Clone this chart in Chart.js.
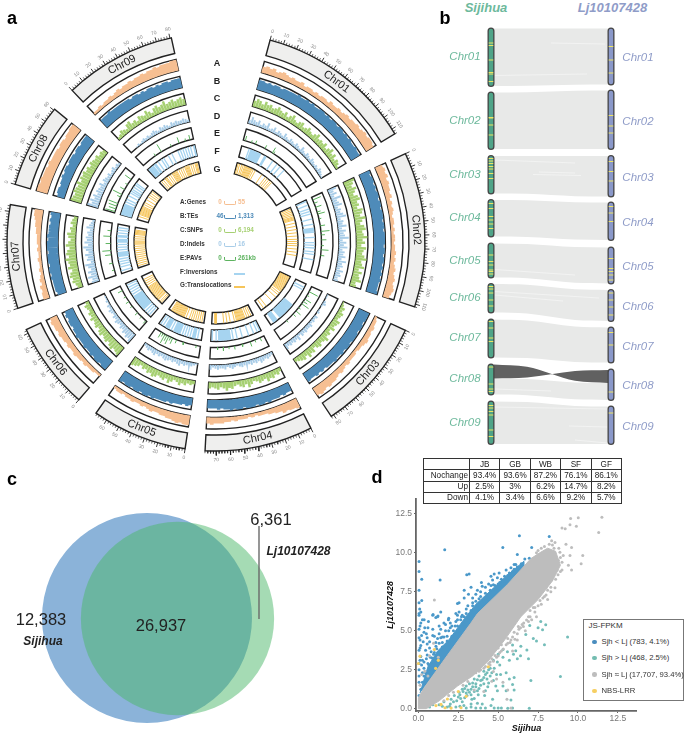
<!DOCTYPE html>
<html>
<head>
<meta charset="utf-8">
<title>Sijihua vs Lj10107428</title>
<script src="https://cdn.jsdelivr.net/npm/chart.js@4"></script>
<style>
html, body { margin: 0; padding: 0; background: #fff; }
#page { position: relative; width: 685px; height: 734px; overflow: hidden; font-family: "Liberation Sans", Arial, sans-serif; }
#page canvas { position: absolute; }
.txt { position: absolute; white-space: nowrap; line-height: 1; transform: translate(-50%, -50%); }
.swatch { position: absolute; box-sizing: border-box; height: 4px; border-style: solid; border-width: 0 1px 1.6px 1px; border-radius: 0 0 2px 2px; }
#statTable { position: absolute; left: 423px; top: 458px; width: 199px; height: 46px; border-collapse: collapse; table-layout: fixed; font-size: 8.2px; color: #222; }
#statTable td { border: 1px solid #333; padding: 0 1px; text-align: center; height: 10px; line-height: 9px; white-space: nowrap; }
#statTable td:first-child { text-align: right; width: 43px; }
#jsLegend { position: absolute; left: 583px; top: 619px; width: 101px; height: 82px; box-sizing: border-box; border: 1.5px solid #777; background: #fff; }
</style>
</head>
<body>
<div id="page"></div>
<script>
// ---------- panel a: circos tracks ----------
const chrNames = ['Chr01', 'Chr02', 'Chr03', 'Chr04', 'Chr05', 'Chr06', 'Chr07', 'Chr08', 'Chr09'];
const chrLengths = [114, 112, 82, 78, 69, 63, 75, 61, 81];
const chrStartDeg = [15, 65, 115, 153, 188.5, 221, 251.5, 286, 316.5];
const mbPerDeg = 2.6;

// bar heights per bin, 0-9
const genes = [
  [5,6,5,6,4,5,6,5,4,5,4,4,5,3,4,4,3,4,3,4,4,3,5,4,4,5,4,5,6,5,6,6,7,6,7,8,7,8,8,7],
  [6,7,6,7,5,6,5,5,4,5,3,4,3,4,3,2,3,3,2,3,2,3,3,2,3,3,4,3,4,3,4,5,4,5,6,5,6,7,6,5],
  [2,3,3,4,3,4,4,5,4,3,3,2,3,3,3,4,3,4,5,4,5,6,6,7,6,7,8,7],
  [8,7,7,6,7,5,5,4,4,3,3,3,2,3,2,3,3,3,4,3,4,4,5,5,5,6,5],
  [8,8,7,8,7,6,6,5,5,4,4,5,4,3,4,3,3,4,3,3,2,3,3,2],
  [2,2,3,3,3,4,3,4,4,5,4,4,5,4,5,5,6,5,6,6,7,6],
  [5,5,4,5,3,4,3,2,3,2,2,3,2,2,3,2,3,3,3,4,4,5,5,6,7,7],
  [9,9,8,9,8,8,8,7,8,7,7,7,7,6,7,7,6,7,7,8,8],
  [2,2,3,2,3,3,4,3,4,5,4,5,5,6,5,6,6,7,6,7,7,8,7,8,8,8,9,9]
];
const tes = [
  [8,8,7,8,7,8,8,7,8,8,8,8,8,9,8,8,9,8,9,8,8,9,9,8,9,8,9,9,8,9,9,8,9,8,9,8,8,9,8,8],
  [9,8,9,9,8,9,8,9,9,8,9,9,8,9,9,9,8,9,9,8,9,9,9,9,8,9,9,8,9,9,8,9,8,9,8,9,8,8,8,9],
  [9,9,9,8,9,9,8,9,9,9,8,9,9,8,9,8,8,9,8,8,8,7,8,7,8,7,7,8],
  [7,7,8,7,8,8,8,9,8,9,9,8,9,9,9,8,9,9,8,9,8,8,7,8,7,7,7],
  [6,7,6,7,7,7,8,7,8,8,8,8,9,8,9,9,8,9,9,8,9,9,8,9],
  [9,9,8,9,9,8,9,8,8,9,8,8,8,9,8,8,7,8,8,7,8,7],
  [7,8,8,8,8,9,8,9,9,8,9,9,9,8,9,9,9,8,9,8,8,8,7,8,7,8],
  [6,7,7,6,7,7,8,7,8,8,7,8,8,8,7,8,8,7,8,8,8],
  [8,8,8,9,8,8,8,8,8,8,8,7,8,8,7,8,7,8,8,7,8,7,8,8,7,8,8,8]
];
const snps = [
  [5,7,6,4,7,5,6,4,5,7,5,4,6,3,5,7,4,3,5,6,3,4,6,4,3,5,7,4,5,4,6,3,5,7,4,6,3,5,4,2],
  [9,7,5,8,6,4,7,8,5,6,4,8,7,5,9,6,4,7,8,5,6,9,5,7,4,8,6,5,7,9,5,6,8,4,7,5,6,8,4,5],
  [1,2,4,3,5,4,3,6,5,4,6,3,5,4,7,5,4,6,5,3,6,5,7,4,6,5,4,3],
  [3,5,4,6,5,7,4,5,6,4,3,5,7,4,6,5,3,4,6,5,7,5,4,6,5,4,5],
  [3,4,3,5,4,6,4,3,5,7,4,6,5,4,6,7,5,6,4,5,3,5,6,7],
  [8,7,6,8,7,5,7,6,5,7,6,4,6,5,4,6,4,5,3,4,5,3],
  [4,5,7,6,8,7,5,8,6,7,9,6,8,7,5,8,6,4,6,7,4,5,3,5,4,3],
  [9,8,7,9,8,7,9,6,8,7,8,6,7,5,7,6,5,6,4,5,4],
  [2,3,5,4,3,6,7,4,5,3,6,5,4,7,5,3,6,7,5,6,8,5,6,7,5,6,7,5]
];
const indels = [
  [3,6,4,3,5,2,4,3,6,2,3,5,2,4,3,2,5,3,2,4,3,2,4,3,2,5,3,2,4,3,2,4,3,2,3,2,4,3,2,1],
  [7,4,6,3,8,4,5,7,3,5,4,6,8,3,5,4,7,3,6,4,5,8,3,6,4,7,3,5,4,6,3,7,4,5,3,6,4,5,3,4],
  [1,1,0,2,3,1,0,1,2,0,3,2,3,2,4,3,3,4,3,4,2,5,3,4,3,4,3,5],
  [2,3,4,3,4,5,3,4,3,4,3,2,3,4,3,2,3,4,3,2,4,3,3,4,3,2,4],
  [1,2,3,2,3,4,3,5,4,3,4,3,4,5,4,3,4,3,5,4,3,4,3,2],
  [8,6,7,5,6,4,5,3,4,5,3,4,2,3,4,2,3,1,2,1,1,0],
  [6,5,8,5,7,4,6,8,3,6,5,7,4,6,8,4,7,5,6,4,5,3,6,4,3,2],
  [9,6,8,5,7,4,6,5,4,6,3,5,4,3,4,2,3,4,2,3,2],
  [0,0,0,1,2,1,2,3,2,3,2,3,4,3,2,4,3,4,3,2,4,3,4,3,3,4,3,2]
];
// [Mb, height 0-9]
const pavs = [
  [[3,4],[12,2],[18,3],[33,3],[45,5],[47,2]],
  [[4,7],[9,3],[15,5],[22,3],[25,6],[32,2],[42,4],[50,7],[55,3],[62,4],[70,2],[76,6],[84,3]],
  [[8,8],[14,2],[20,6],[24,4],[28,7],[35,2],[41,5],[47,3],[60,2]],
  [[6,3],[14,2],[21,4],[33,2],[44,3],[52,2],[60,3],[68,2]],
  [[6,2],[24,2],[35,3],[41,5],[44,3],[47,7],[50,5],[53,8],[56,3],[59,5]],
  [[2,3],[10,2],[18,3],[30,2],[38,3],[46,2],[56,4]],
  [[8,2],[18,3],[30,5],[36,7],[46,4],[56,6],[64,3]],
  [[2,8],[6,6],[10,7],[14,8],[24,3],[28,8],[36,4],[44,2],[53,6]],
  [[22,2],[32,7],[48,2],[60,5],[70,2],[76,4]]
];
const inversions = [
  [12,15,17,19,21,23,25,27,29,31,38,40,52,60,66,74],
  [2,8,14,18,22,30,38,44,46,48,50,58,66,70,74,80,84,92],
  [6,10,38,40,42,44,46,48,50,52,54,56,58,60,62,64,70,72,74,76],
  [2,6,12,20,30,38,44,48,50,52,54,56,58,60,62,64,66,70,76],
  [6,10,12,14,18,22,26,30,34,36,38,40,42,44,48,52,54,56,58,62,66],
  [4,8,12,16,18,20,22,24,26,28,30,32,34,36,38,40,44,48,52,56,60],
  [4,10,14,18,22,26,28,30,32,36,40,44,48,50,52,56,58,62,66,70],
  [1,3,5,7,9,11,13,15,17,21,25,31,36,39,42,46,50,53],
  [2,4,6,8,10,13,15,20,26,30,38,44,54,58,62,66,70,74,79,80]
];
const translocations = [
  [2,5,9,12,15,17,19,21,23,25,27,29,32,36,50,58,62,66,70,73],
  [3,6,9,12,15,18,20,22,24,30,36,42,48,54,60,64,68,72,78,84,90],
  [2,4,6,8,10,12,14,16,18,20,22,24,26,28,30,32,36,40,46,56,70,76],
  [4,8,12,16,18,20,22,24,26,28,30,32,36,44,50,56,70,72],
  [4,8,12,16,20,24,28,34,38,40,42,44,46,48,50,52,54,56,58,60,62,64],
  [3,6,10,12,14,16,18,20,22,24,26,28,30,32,34,36,38,40,44,48,52,56],
  [4,8,12,16,20,24,28,32,36,40,44,46,48,50,54,58,62,64,66,68,70],
  [6,10,12,14,16,18,20,22,24,26,30,34,40,46,50,54,58],
  [4,8,12,14,16,20,24,28,30,32,34,36,38,42,46,50,54,56,58,60,62,66,70,74,76,78]
];

// ---------- panel b: synteny, layout axis units ----------
const sjStart = [17, 145, 272, 360, 447, 528, 599, 689, 763];
const sjLen = [115, 113, 75, 73, 68, 57, 76, 60, 85];
const ljStart = [17, 141, 272, 365, 455, 540, 615, 699, 773];
const ljLen = [112, 117, 81, 75, 72, 62, 70, 61, 75];
const sjBands = [46,51,80,105,108,123,195,196,210,230,277,282,287,293,298,307,317,367,377,393,400,408,417,470,483,490,500,503,508,533,538,546,560,572,603,616,636,643,694,728,738,743,771,776,783,790,820,833];
const ljBands = [53,80,106,191,212,226,283,303,322,373,386,403,477,497,503,510,520,546,560,574,590,625,650,744,786];
// x0, y0, x1, y1
const slivers = [[0.03,111,0.8,108],[0.5,46,0.95,48],[0.35,309,0.75,311],[0.4,304,0.7,306],[0.03,280,0.7,286],[0.03,499,0.7,510],[0.03,543,0.9,556],[0.03,550,0.6,562],[0.03,738,0.5,742],[0.03,774,0.97,778],[0.65,812,0.97,814],[0.7,840,0.97,846]];
// Chr08 inverted block
const invSj = [689, 717];
const invLj = [700, 726];

// ---------- panel c: venn ----------
const sjOnly = 12383;
const shared = 26937;
const ljOnly = 6361;

// ---------- panel d: expression scatter ----------
const fpkmTicks = [0, 2.5, 5, 7.5, 10, 12.5];
const tableHead = ['', 'JB', 'GB', 'WB', 'SF', 'GF'];
const tableRows = [
  ['Nochange', '93.4%', '93.6%', '87.2%', '76.1%', '86.1%'],
  ['Up', '2.5%', '3%', '6.2%', '14.7%', '8.2%'],
  ['Down', '4.1%', '3.4%', '6.6%', '9.2%', '5.7%']
];
const coreOutline = [[0,0],[0,0.7],[0.36,1.34],[1.82,3.43],[3.28,5.48],[3.7,6.1],[5.58,7.97],[7.05,9.63],[7.6,10.0],[8.1,10.3],[8.6,10.1],[8.9,9.2],[8.4,8.2],[7.5,7],[6.42,5.9],[5.4,4.4],[4.33,3],[3.4,2.1],[2.45,1.45],[1.3,0.5],[0.5,0],[0,0]];
const blueBand = [[0.1,1.0],[0.6,2.7],[1.2,3.7],[1.9,4.4],[2.9,5.8],[3.6,6.7],[4.5,7.55],[5.5,8.5],[6.6,9.45],[6.6,8.8],[3,4.8],[1,2.2]];
const bluePts = [[6.33,11.1],[1.65,10.2],[5.29,10.35],[7.1,10.35],[8.2,11.05],[6.2,9.9],[0.04,9.45],[0.04,8.8],[0.21,8.3],[1.36,8.25],[3.03,8.6],[3.18,8.65],[0.04,7.6],[0.21,6.95],[0.04,6.8],[0.08,6.4],[0.15,6.2],[0.04,6.1],[1.4,6.2],[0.92,6.05],[1.23,5.95],[1.09,5.85],[0.36,5.7],[0.63,5.6],[1.88,5.7],[2.45,6.75],[2.55,6.8],[2.87,7.1],[2.87,7.6],[3.3,7.8],[3.14,7.35],[3.95,8.1],[4,7.85],[4.2,7.8],[3.7,7.6],[3.6,7.35],[4.55,8.5],[4.75,8.65],[5.06,8.7],[4.65,8.25],[4.95,8.4],[4.4,8],[4.7,7.95],[5.1,8.1],[5.4,8.5],[5.5,8.9],[5.8,9.05],[6,9.25],[6.1,9.25],[6.45,9.3],[6.67,9.6],[6.95,9.65],[6,8.95],[5.7,8.7],[5.4,8.2],[5.1,7.9],[4.75,7.65],[4.2,7.4],[3.8,7.05],[3.4,6.8],[3.1,6.6],[3,6.4],[2.55,6.2],[2.45,6],[2.75,6],[3.3,6.3],[3.7,6.6],[4.1,6.9],[4.4,7.05],[2.35,5.6],[2.65,5.7],[3.1,5.9],[2.87,5.6],[2,5.5],[0.04,6],[0.9,6],[1.2,5.9],[1.9,5.8],[2.45,5.7],[2.87,5.9],[3.2,5.8],[2.87,5.4],[2.45,5.3],[2,5.2],[1.7,5],[2.2,5],[2.55,5],[1.3,5.3],[0.9,5.1],[0.15,5.5],[0.25,5.7],[0.04,5.1],[0.35,4.9],[0.04,4.55],[0.55,4.55],[1,4.65],[1.4,4.55],[1.8,4.65],[2.1,4.65],[0.55,4.15],[1.09,4.25],[1.5,4.25],[1.8,4.35],[0.15,4.05],[0.04,3.75],[0.45,3.75],[0.8,3.65],[1.15,3.85],[1.5,3.95],[0.15,3.35],[0.55,3.45],[0.85,3.25],[1.15,3.45],[0.04,2.9],[0.35,3],[0.65,2.8],[0.95,3],[1.15,2.9],[0.04,2.5],[0.35,2.6],[0.65,2.5],[0.85,2.4],[0.04,2.1],[0.35,2.1],[0.55,2.2],[0.04,1.7],[0.25,1.7],[0.45,1.8],[0.15,1.25],[0.35,1.25],[0.04,0.85],[0.25,0.8],[0.6,5.2],[0.2,4.7],[0.7,4.3],[1.3,4.8],[1.6,5.5],[0.3,4.3],[0.25,3.1],[0.7,3.9],[0.5,3.2],[1.0,3.6],[2.3,5.3],[2.7,5.9],[3,6.1],[3.4,6.6],[3.6,6.9],[3.9,7.2],[4.2,7.1],[4.5,7.6],[4.8,7.9],[5,8],[5.2,8.3],[5.6,8.55],[5.9,8.8],[6.2,9.1],[1.6,4.6],[1.9,5],[2.1,5.3],[1.3,4.2],[1.5,4.6],[1.1,4],[0.95,3.5],[0.75,3.3],[0.6,2.9],[0.45,2.3],[0.25,2.3],[0.2,2.8],[0.1,3.1],[0.1,3.9],[0.1,4.4],[0.1,5.3],[0.4,5.2],[0.5,4.8],[0.9,4.7],[1.2,4.5],[1.4,5.1],[1.7,5.4],[2.35,6.1],[3.4,7.1],[3.9,7.5],[4.55,7.9]];
const tealPts = [[7.67,5.6],[7.98,5.38],[7.5,5.2],[6.98,5.33],[7.78,5.07],[6.73,4.76],[7.2,4.5],[7.4,4.35],[9.35,4.6],[7.9,4.1],[6.42,4],[5.9,4.08],[6.8,3.76],[5.58,3.66],[6.1,3.72],[5.96,3.5],[6.9,3.2],[6.2,3.2],[5.7,3.1],[5,3.5],[5.3,3.3],[4.95,3],[4.75,2.6],[4.4,2.5],[5.5,2.3],[8.9,2.06],[7.05,1.8],[6,2],[5.15,2.2],[5.7,1.9],[4.2,2.2],[4,1.85],[4.4,1.65],[3.7,1.85],[3.4,1.65],[4.85,1.45],[5.3,1.45],[5.9,1.55],[3.3,1.25],[3.7,1.15],[4.2,1.15],[4.95,1.15],[5.5,1.15],[6,1.2],[3,1.45],[2.75,1.25],[2.55,1.05],[3.05,0.85],[3.5,0.65],[4.15,0.85],[4.65,0.6],[5.8,0.55],[2.25,0.85],[2.05,0.6],[2.65,0.65],[2.85,0.2],[3.3,0.3],[1.6,0.45],[1.3,0.25],[0.9,0.25],[0.7,0.1],[1.8,0.1],[2.35,0.1],[3,0.05],[3.6,0.05],[3.9,0.05],[4.2,0.05],[4.75,0.05],[5,0.05],[5.2,0.05],[5.6,0.02],[5.9,0.05],[6.95,0.02],[4.55,0.2],[4,0.3],[2.9,1.3],[3.2,1.6],[3.5,1.9],[3.8,2.1],[4.1,2.4],[2.6,0.9],[3,1],[3.3,0.9],[3.6,1.4],[3.9,1.5],[4.3,1.9],[4.5,2.1],[4.6,2.3],[2.4,0.5],[2,0.3],[1.5,0.15],[4.7,3.1],[5.1,2.8],[5.3,3.8],[6.4,3.4],[4.9,2.2],[2.8,1.1],[3.1,1.2],[3.4,1.4],[3.6,1.6],[3.9,1.8],[4.1,2],[4.3,2.3],[4.5,2.6],[3.2,1.05],[2.9,0.7],[3.5,1.1],[3.8,1.3],[4.1,1.6],[3.35,0.6],[3.75,0.9],[4.35,1.4],[4.7,1.8],[2.2,0.45],[2.5,0.75],[2.75,0.45],[1.95,0.15],[2.6,0.15],[3.3,0.1],[3.7,0.35]];
const grayPts = [[9.54,12.2],[10.02,12.26],[11.5,12.28],[11.3,11.3],[9.9,11.7],[9.5,11.8],[9,11.6],[9.2,11.55],[8.56,10.66],[8.35,10.77],[9.25,10.56],[9.6,10.35],[8.87,10.04],[9.08,9.83],[10.3,9.83],[10.2,9.3],[9.6,8.9],[9.4,9.2],[9.5,9.83],[8.66,9.1],[8.77,9.52],[8.35,8.28],[8.56,7.76],[8,7.76],[8.04,8.38],[7.62,6.94],[7.2,6.5],[6.78,5.69],[6.58,5.28],[6.26,5.28],[6.05,4.45],[5.74,4.24],[5.32,3.83],[4.8,3.42],[4.49,2.8],[4.7,2.38],[4.6,1.76],[1,6.98],[7.9,7.2],[8.3,7.5],[8.75,8.6],[9,8.9],[7.3,6.2],[6.9,5.9],[7,6.3],[6.4,5.2],[5.9,4.6],[5.6,4.5],[5.2,4.1],[5,3.9],[4.6,3.2],[4.2,2.7],[3.9,2.5],[8.2,10.55],[7.9,10.4],[7.5,10.15],[8.5,10.3],[8.9,9.7],[9,9.4],[5.9,3.7],[6.2,4.4],[6.7,5],[7.1,5.7],[7.4,5.9],[8.1,7],[3.5,1.2],[4.1,1.1],[4.9,1.9],[5.3,1.7],[5.6,1.2],[0.1,1.5],[0.2,2.2],[0.4,2.4],[0.6,2.1],[0.7,3.4],[1.25,3.3],[0.95,4.2],[5.55,0.6],[5.8,0.05],[3.8,2.4],[4.1,2.6],[4.4,2.9],[4.7,3.05],[5,3.4],[5.2,3.7],[5.5,4.1],[5.8,4.4],[6,4.9],[6.3,5.1],[6.6,5.5],[7,5.9],[7.3,6.5],[7.7,6.7],[8,7.3],[8.3,7.8],[8.6,8.3],[8.7,8.9],[8.9,8.8],[8.1,7.6],[7.8,7.1],[7.5,6.6],[5.1,3.6],[5.6,4.2],[6.2,4.8],[6.5,5.4],[6.9,5.6],[4.5,3],[4.9,3.3],[3.6,2.3],[3.1,1.75],[2.8,1.5],[2.2,1.05],[1.9,0.85],[1.6,0.5],[7.7,10.3],[7.4,10],[8.4,10.5],[8.8,10.3]];
const nbsPts = [[1,3.79],[0.1,3.37],[0,2.9],[1.25,3.1],[1.08,2.59],[4.38,2.69],[2.5,1.1],[2.99,0.79],[1.82,0.62],[1.1,0.2],[1.42,0.27],[1.67,0.06],[2.05,0.04],[2.67,0.06]];

const palette = {
  genes: '#F6BF92', tes: '#4E8BB9', snps: '#A6D072', indels: '#A9CDE8', pavs: '#5DB35F',
  inv: '#A6D4F0', trans: '#F6C55A', sj: '#6DB99C', lj: '#8F9CC8'
};
const FONT = '"Liberation Sans", Arial, sans-serif';
Chart.defaults.animation = false;
Chart.defaults.font.family = FONT;
Chart.defaults.plugins.legend.display = false;
Chart.defaults.plugins.tooltip.enabled = false;
Chart.defaults.responsive = false;
Chart.defaults.events = [];
Chart.defaults.layout.autoPadding = false;

const page = document.getElementById('page');

function addCanvas(left, top, w, h) {
  const c = document.createElement('canvas');
  c.width = w; c.height = h;
  c.style.left = left + 'px'; c.style.top = top + 'px';
  c.style.width = w + 'px'; c.style.height = h + 'px';
  page.appendChild(c);
  return c;
}

function addText(str, x, y, css) {
  const d = document.createElement('div');
  d.className = 'txt';
  d.textContent = str;
  d.style.left = x + 'px'; d.style.top = y + 'px';
  d.style.cssText += css;
  page.appendChild(d);
  return d;
}

// ---- panel a, rings (first dataset is the outermost ring)
const ringWeights = [16, 6, 11.5, 6, 11.5, 6, 11.5, 6, 11.5, 6, 11.5, 6, 11.5, 6, 11.5];
const ringSegments = [];
chrNames.forEach((n, i) => {
  const next = i < 8 ? chrStartDeg[i + 1] : chrStartDeg[0] + 360;
  const end = chrStartDeg[i] + chrLengths[i] / mbPerDeg;
  ringSegments.push(chrLengths[i], (next - end) * mbPerDeg);
});
const ringSets = ringWeights.map((w, i) => {
  const isGap = i % 2 === 1;
  return {
    data: ringSegments,
    weight: w,
    backgroundColor: isGap ? 'rgba(0,0,0,0)' : ringSegments.map((v, k) => k % 2 ? 'rgba(0,0,0,0)' : (i === 0 ? '#EFEFEE' : '#fff')),
    borderColor: isGap ? 'rgba(0,0,0,0)' : ringSegments.map((v, k) => k % 2 ? 'rgba(0,0,0,0)' : '#222'),
    borderWidth: isGap ? 0 : ringSegments.map((v, k) => k % 2 ? 0 : 1.4),
    borderJoinStyle: 'miter'
  };
});

new Chart(addCanvas(-4, 0, 440, 484), {
  type: 'doughnut',
  data: { labels: [], datasets: ringSets },
  options: { rotation: chrStartDeg[0], radius: 209, cutout: '33.73%', layout: { padding: 0 } }
});

// ---- panel a, tracks as radial strokes
function polar(chr, mb, r) {
  const a = (chrStartDeg[chr] + mb / mbPerDeg) * Math.PI / 180;
  return { x: r * Math.sin(a), y: r * Math.cos(a) };
}
const GAP = { x: NaN, y: NaN };
const trackSets = [];
function strokeSet(points, color, width) {
  trackSets.push({ data: points, showLine: true, borderColor: color, borderWidth: width, pointRadius: 0, borderCapStyle: 'butt' });
}
function histTrack(values, rInner, rHeight, color, widthFactor) {
  values.forEach((bins, chr) => {
    const step = chrLengths[chr] / bins.length;
    const pts = [];
    bins.forEach((v, i) => {
      if (!v) return;
      const mb = (i + 0.5) * step;
      pts.push(polar(chr, mb, rInner), polar(chr, mb, rInner + rHeight * v / 9), GAP);
    });
    const binWidth = (rInner + rHeight) * (step / mbPerDeg) * Math.PI / 180;
    strokeSet(pts, color, binWidth * widthFactor);
  });
}
function sparseTrack(positions, rInner, rHeight, color, width) {
  positions.forEach((list, chr) => {
    const pts = [];
    list.forEach(mb => pts.push(polar(chr, mb, rInner), polar(chr, mb, rInner + rHeight), GAP));
    strokeSet(pts, color, width);
  });
}
histTrack(genes, 175.5, 11, palette.genes, 1.02);
histTrack(tes, 158, 11, palette.tes, 1.02);
histTrack(snps, 140.5, 11, palette.snps, 0.85);
histTrack(indels, 123, 11, palette.indels, 0.75);
pavs.forEach((list, chr) => {
  const pts = [];
  list.forEach(p => pts.push(polar(chr, p[0], 105.5), polar(chr, p[0], 105.5 + 11 * p[1] / 9), GAP));
  strokeSet(pts, palette.pavs, 1);
});
sparseTrack(inversions, 88, 11, palette.inv, 1.3);
sparseTrack(translocations, 71, 10.5, palette.trans, 1);

// ideogram ticks
chrNames.forEach((n, chr) => {
  const minor = [], major = [];
  for (let mb = 0; mb <= chrLengths[chr]; mb += 2) {
    if (mb % 10 === 0) major.push(polar(chr, mb, 209), polar(chr, mb, 213.5), GAP);
    else minor.push(polar(chr, mb, 209), polar(chr, mb, 211.5), GAP);
  }
  strokeSet(major, '#222', 0.9);
  strokeSet(minor, '#222', 0.7);
});

const flip = [false, false, true, true, true, true, false, false, false];
const circosLabels = {
  id: 'circosLabels',
  afterDatasetsDraw(chart) {
    const { ctx, scales: { x, y } } = chart;
    const put = (text, chr, mb, r) => {
      const p = polar(chr, mb, r);
      const deg = chrStartDeg[chr] + mb / mbPerDeg;
      ctx.save();
      ctx.translate(x.getPixelForValue(p.x), y.getPixelForValue(p.y));
      ctx.rotate((flip[chr] ? deg - 180 : deg) * Math.PI / 180);
      ctx.fillText(text, 0, 0);
      ctx.restore();
    };
    ctx.textAlign = 'center';
    ctx.textBaseline = 'middle';
    ctx.fillStyle = '#8a8a8a';
    ctx.font = '5px ' + FONT;
    chrNames.forEach((n, chr) => {
      for (let mb = 0; mb <= chrLengths[chr]; mb += 10) put(String(mb), chr, mb, 218);
    });
    ctx.fillStyle = '#222';
    ctx.font = '11px ' + FONT;
    chrNames.forEach((n, chr) => put(n, chr, chrLengths[chr] / 2, 200.5));
  }
};

new Chart(addCanvas(-4, 0, 440, 484), {
  type: 'scatter',
  data: { datasets: trackSets },
  options: {
    layout: { padding: 0 },
    scales: {
      x: { type: 'linear', display: false, min: -220, max: 220 },
      y: { type: 'linear', display: false, min: -242, max: 242 }
    }
  },
  plugins: [circosLabels]
});

// centre key of panel a
['A', 'B', 'C', 'D', 'E', 'F', 'G'].forEach((t, i) => {
  addText(t, 217, 63 + i * 17.6, 'font-weight:bold;font-size:9px;color:#222;');
});
const keyRows = [
  ['A:Genes', '0', '55', palette.genes],
  ['B:TEs', '46', '1,313', palette.tes],
  ['C:SNPs', '0', '6,194', palette.snps],
  ['D:Indels', '0', '16', palette.indels],
  ['E:PAVs', '0', '261kb', palette.pavs],
  ['F:Inversions', '', '', palette.inv],
  ['G:Translocations', '', '', palette.trans]
];
keyRows.forEach((row, i) => {
  const yy = 202 + i * 13.9;
  const lab = addText(row[0], 180, yy, 'font-weight:bold;font-size:6.3px;color:#333;');
  lab.style.transform = 'translate(0,-50%)';
  if (row[1]) {
    addText(row[1], 220, yy, 'font-weight:bold;font-size:6.3px;color:' + row[3] + ';');
    const hi = addText(row[2], 238, yy, 'font-weight:bold;font-size:6.3px;color:' + row[3] + ';');
    hi.style.transform = 'translate(0,-50%)';
    const sw = document.createElement('div');
    sw.className = 'swatch';
    sw.style.cssText = 'left:224px;width:12px;top:' + (yy - 1) + 'px;border-color:' + row[3] + ';';
    page.appendChild(sw);
  } else {
    const sw = document.createElement('div');
    sw.style.cssText = 'position:absolute;left:234px;width:11px;height:2px;top:' + (yy + 1) + 'px;background:' + row[3] + ';';
    page.appendChild(sw);
  }
});

// ---- panel b
const ribbonX = [0.025, 0.3, 0.7, 0.975];
const synSets = [];
function ribbonEdge(a, b, fill, color) {
  return {
    data: [{ x: ribbonX[0], y: a }, { x: ribbonX[1], y: a + (b - a) * 0.12 }, { x: ribbonX[2], y: a + (b - a) * 0.88 }, { x: ribbonX[3], y: b }],
    showLine: true, borderWidth: 0, pointRadius: 0, cubicInterpolationMode: 'monotone',
    fill: fill, backgroundColor: color, borderColor: color
  };
}
function chromBar(x, a, b, fillColor, out) {
  const pts = [{ x, y: a + 5 }, { x, y: a + b - 5 }];
  out.push({ data: pts, showLine: true, borderColor: '#454545', borderWidth: 7, borderCapStyle: 'round', pointRadius: 0, order: 2 });
  out.push({ data: pts, showLine: true, borderColor: fillColor, borderWidth: 4.4, borderCapStyle: 'round', pointRadius: 0, order: 1 });
}
chrNames.forEach((n, i) => {
  const chr08 = i === 7;
  const topS = chr08 ? invSj[1] : sjStart[i];
  const topL = chr08 ? invLj[1] : ljStart[i];
  synSets.push(Object.assign(ribbonEdge(topS, topL, '+1', '#E8E9E8'), { order: 6 }));
  synSets.push(Object.assign(ribbonEdge(sjStart[i] + sjLen[i], ljStart[i] + ljLen[i], false, '#E8E9E8'), { order: 6 }));
  chromBar(0, sjStart[i], sjLen[i], '#4FA488', synSets);
  chromBar(1, ljStart[i], ljLen[i], '#8A98C9', synSets);
});
synSets.push(Object.assign(ribbonEdge(invSj[0], invLj[1], '+1', '#616161'), { order: 4 }));
synSets.push(Object.assign(ribbonEdge(invSj[1], invLj[0], false, '#616161'), { order: 4 }));
slivers.forEach(s => synSets.push({
  data: [{ x: s[0], y: s[1] }, { x: s[2], y: s[3] }],
  showLine: true, borderColor: 'rgba(255,255,255,0.55)', borderWidth: 0.8, pointRadius: 0, order: 5
}));
synSets.push({ data: sjBands.map(y => ({ x: 0, y })), pointStyle: 'line', pointRadius: 2.3, pointBorderColor: '#EDE463', pointBorderWidth: 1, order: 0 });
synSets.push({ data: ljBands.map(y => ({ x: 1, y })), pointStyle: 'line', pointRadius: 2.3, pointBorderColor: '#EDE463', pointBorderWidth: 1, order: 0 });

new Chart(addCanvas(481, 20, 140, 430), {
  type: 'scatter',
  data: { datasets: synSets },
  options: {
    layout: { padding: 0 },
    scales: {
      x: { type: 'linear', display: false, min: -10 / 120, max: 130 / 120 },
      y: { type: 'linear', display: false, min: 0, max: 860, reverse: true }
    }
  }
});
addText('Sijihua', 486, 6.5, 'font:italic bold 13px ' + FONT + ';color:' + palette.sj + ';');
addText('Lj10107428', 612.5, 6.5, 'font:italic bold 13px ' + FONT + ';color:' + palette.lj + ';');
const sjLabelY = [57, 121, 175, 218, 261, 298, 338, 379, 423];
const ljLabelY = [58, 122, 178, 223, 267, 307, 347, 386, 427];
chrNames.forEach((n, i) => {
  addText(n, 465, sjLabelY[i], 'font-style:italic;font-size:11.5px;color:' + palette.sj + ';');
  addText(n, 638, ljLabelY[i], 'font-style:italic;font-size:11.5px;color:' + palette.lj + ';');
});

// ---- panel c
const radiusUnit = 105 / Math.sqrt(sjOnly + shared);
new Chart(addCanvas(0, 500, 345, 234), {
  type: 'bubble',
  data: {
    datasets: [
      { type: 'scatter', showLine: true, data: [{ x: 259, y: 26 }, { x: 259, y: 119 }], borderColor: '#6b6b6b', borderWidth: 1.4, pointRadius: 0, order: 0 },
      { data: [{ x: 177.5, y: 118.5, r: radiusUnit * Math.sqrt(shared + ljOnly) }], backgroundColor: 'rgba(75,183,105,0.5)', borderWidth: 0, order: 1 },
      { data: [{ x: 147, y: 118, r: 105 }], backgroundColor: '#8BB3D9', borderWidth: 0, order: 2 }
    ]
  },
  options: {
    layout: { padding: 0 },
    scales: {
      x: { type: 'linear', display: false, min: 0, max: 345 },
      y: { type: 'linear', display: false, min: 0, max: 234, reverse: true }
    }
  }
});
addText(ljOnly.toLocaleString('en-US'), 271, 519, 'font-size:16.5px;color:#222;');
addText(sjOnly.toLocaleString('en-US'), 41, 619, 'font-size:16.5px;color:#222;');
addText(shared.toLocaleString('en-US'), 161, 625, 'font-size:16.5px;color:#222;');
addText('Sijihua', 43, 641, 'font:italic bold 12px ' + FONT + ';color:#222;');
addText('Lj10107428', 298.5, 551, 'font:italic bold 12px ' + FONT + ';color:#222;');

// ---- panel d
const toXY = pts => pts.map(p => ({ x: p[0], y: p[1] }));
new Chart(addCanvas(380, 492, 257, 242), {
  type: 'scatter',
  data: {
    datasets: [
      { data: toXY(nbsPts), backgroundColor: '#F6CF63', pointRadius: 1.6, borderWidth: 0, order: 0 },
      { data: toXY(coreOutline), showLine: true, fill: 'shape', backgroundColor: '#BDBDBD', borderColor: '#BDBDBD', borderWidth: 1, pointRadius: 0, order: 1 },
      { data: toXY(grayPts), backgroundColor: '#BDBDBD', pointRadius: 1.5, borderWidth: 0, order: 2 },
      { data: toXY(tealPts), backgroundColor: '#74BDB9', pointRadius: 1.5, borderWidth: 0, order: 3 },
      { data: toXY(bluePts), backgroundColor: '#4A98C9', pointRadius: 1.5, borderWidth: 0, order: 4 },
      { data: toXY(blueBand), showLine: true, fill: 'shape', backgroundColor: '#4A98C9', borderColor: '#4A98C9', borderWidth: 1, pointRadius: 0, order: 5 }
    ]
  },
  options: {
    layout: { padding: 0 },
    scales: {
      x: {
        type: 'linear', min: -0.15, max: 13.7,
        afterBuildTicks(s) { s.ticks = fpkmTicks.map(v => ({ value: v })); },
        afterFit(s) { s.height = 23; },
        border: { color: '#666', width: 1.8 },
        grid: { drawOnChartArea: false, color: '#666', tickLength: 2 },
        ticks: { color: '#777', font: { size: 8.5 }, padding: 1, maxRotation: 0, callback: v => v.toFixed(1) },
        title: { display: true, text: 'Sijihua', color: '#111', padding: 0, font: { size: 9, style: 'italic', weight: 'bold' } }
      },
      y: {
        type: 'linear', min: -0.15, max: 13.45,
        afterBuildTicks(s) { s.ticks = fpkmTicks.map(v => ({ value: v })); },
        afterFit(s) { s.width = 36; },
        border: { color: '#666', width: 1.8 },
        grid: { drawOnChartArea: false, color: '#666', tickLength: 2 },
        ticks: { color: '#777', font: { size: 8.5 }, padding: 2, callback: v => v.toFixed(1) },
        title: { display: true, text: 'Lj10107428', color: '#111', padding: { top: 5, bottom: 0 }, font: { size: 9, style: 'italic', weight: 'bold' } }
      }
    }
  }
});

// table above the scatter
const tbl = document.createElement('table');
tbl.id = 'statTable';
[tableHead].concat(tableRows).forEach(row => {
  const tr = document.createElement('tr');
  row.forEach(c => {
    const td = document.createElement('td');
    td.textContent = c;
    tr.appendChild(td);
  });
  tbl.appendChild(tr);
});
page.appendChild(tbl);

// legend box
const legendItems = [
  ['Sjh < Lj (783, 4.1%)', '#4A8DBE'],
  ['Sjh > Lj (468, 2.5%)', '#74BDB1'],
  ['Sjh \u2248 Lj (17,707, 93.4%)', '#BDBDBD'],
  ['NBS-LRR', '#F6CF63']
];
const legendBox = document.createElement('div');
legendBox.id = 'jsLegend';
page.appendChild(legendBox);
addText('JS-FPKM', 605.5, 626, 'font-size:8px;color:#333;');
legendItems.forEach((it, i) => {
  const yy = 641.7 + i * 16.4;
  const dot = document.createElement('div');
  dot.style.cssText = 'position:absolute;left:592px;top:' + (yy - 2.2) + 'px;width:4.5px;height:4.5px;border-radius:50%;background:' + it[1] + ';';
  page.appendChild(dot);
  const t = addText(it[0], 601.5, yy, 'font-size:7.7px;color:#333;');
  t.style.transform = 'translate(0,-50%)';
});

// panel letters
addText('a', 12, 18, 'font-weight:bold;font-size:18px;color:#000;');
addText('b', 445, 18, 'font-weight:bold;font-size:18px;color:#000;');
addText('c', 12, 479, 'font-weight:bold;font-size:18px;color:#000;');
addText('d', 377, 477, 'font-weight:bold;font-size:18px;color:#000;');
</script>
</body>
</html>
